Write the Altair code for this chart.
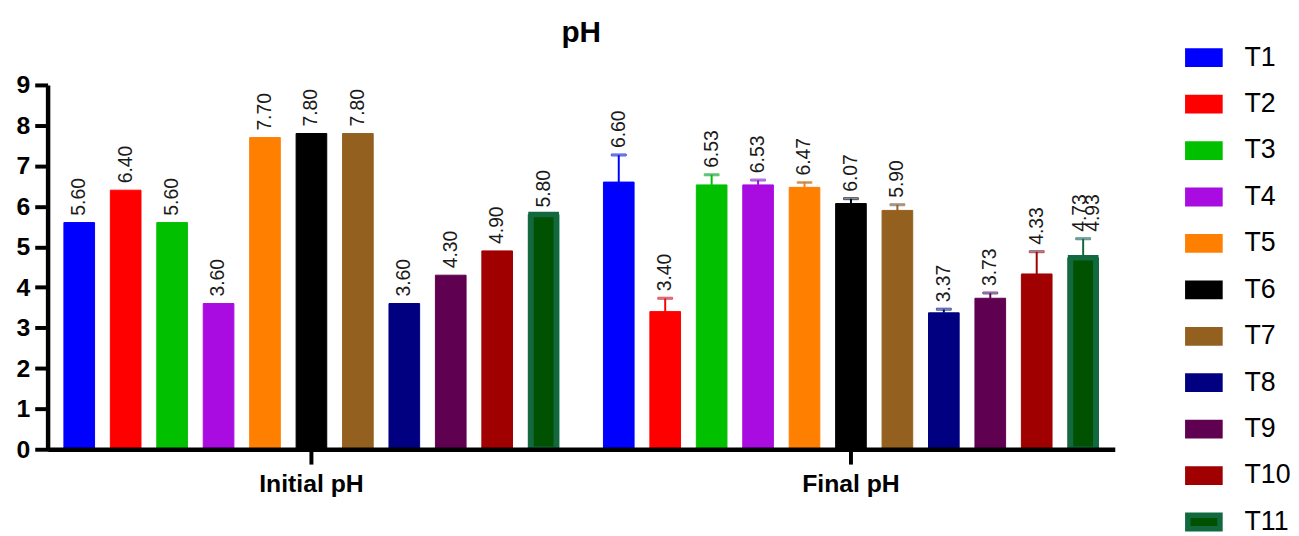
import altair as alt
import pandas as pd

# ---- data ----
treatments = ["T1", "T2", "T3", "T4", "T5", "T6", "T7", "T8", "T9", "T10", "T11"]
stages = ["Initial pH", "Final pH"]
initial_ph = [5.60, 6.40, 5.60, 3.60, 7.70, 7.80, 7.80, 3.60, 4.30, 4.90, 5.80]
final_ph = [6.60, 3.40, 6.53, 6.53, 6.47, 6.07, 5.90, 3.37, 3.73, 4.33, 4.73]
initial_err = [0, 0, 0, 0, 0, 0, 0, 0, 0, 0, 0]
final_err = [0.67, 0.33, 0.25, 0.12, 0.12, 0.12, 0.14, 0.09, 0.13, 0.55, 0.47]
extra_label_text = "4.93"
y_ticks = [0, 1, 2, 3, 4, 5, 6, 7, 8, 9]

fill_colors = ["#0000FF", "#FF0000", "#00C000", "#A80CE0", "#FF8000", "#000000",
               "#936020", "#000080", "#600050", "#A00000", "#005200"]
edge_colors = ["#0000FF", "#FF0000", "#00C000", "#A80CE0", "#FF8000", "#000000",
               "#936020", "#000080", "#600050", "#A00000", "#13693F"]

rows = []
for stage, vals, errs in zip(stages, [initial_ph, final_ph], [initial_err, final_err]):
    for t, v, e in zip(treatments, vals, errs):
        rows.append({"Stage": stage, "Treatment": t, "pH": v, "err": e, "label": f"{v:.2f}"})
df = pd.DataFrame(rows)

FONT = "Liberation Sans"
LEGEND_PATH = "M-1,-0.4154H1V0.4154H-1Z"

x_enc = alt.X(
    "Stage:N", sort=stages, title=None,
    scale=alt.Scale(domain=stages, paddingInner=0.0532, paddingOuter=0.0156),
    axis=alt.Axis(labelAngle=0, labelFont=FONT, labelFontSize=25, labelFontWeight="bold",
                  labelColor="black", labelPadding=8, tickSize=15, tickWidth=4,
                  tickColor="black", domainWidth=4.5, domainColor="black", zindex=1),
)
xoff_enc = alt.XOffset("Treatment:N", sort=treatments,
                       scale=alt.Scale(domain=treatments, paddingInner=0.34, paddingOuter=0.17))
y_scale = alt.Scale(domain=[0, 9], nice=False)
y_axis = alt.Axis(values=y_ticks, grid=False, labelFont=FONT, labelFontSize=25,
                  labelFontWeight="bold", labelColor="black", labelPadding=5,
                  tickSize=13, tickWidth=4, tickColor="black", domainWidth=4.5,
                  domainColor="black", zindex=1, format="d")
fill_enc = alt.Fill("Treatment:N", sort=treatments, title=None,
                    scale=alt.Scale(domain=treatments, range=fill_colors))
stroke_enc = alt.Stroke("Treatment:N", sort=treatments, title=None,
                        scale=alt.Scale(domain=treatments, range=edge_colors))

base = alt.Chart(df)

bars = base.mark_bar().encode(
    x=x_enc, xOffset=xoff_enc,
    y=alt.Y("pH:Q", scale=y_scale, axis=y_axis, title=None),
    fill=fill_enc, stroke=stroke_enc,
)

t11 = base.transform_filter(alt.datum.Treatment == "T11").mark_bar(
    strokeWidth=5.5, width=25.5
).encode(
    x=x_enc, xOffset=xoff_enc,
    y=alt.Y("pH:Q", scale=y_scale),
    fill=fill_enc, stroke=stroke_enc,
)

err_base = base.transform_filter(alt.datum.err > 0).transform_calculate(hi="datum.pH + datum.err")

rules = err_base.mark_rule(strokeWidth=2).encode(
    x=x_enc, xOffset=xoff_enc,
    y=alt.Y("pH:Q", scale=y_scale), y2="hi:Q",
    stroke=stroke_enc,
)
caps = err_base.mark_tick(size=15, thickness=2).encode(
    x=x_enc, xOffset=xoff_enc,
    y=alt.Y("hi:Q", scale=y_scale),
    stroke=stroke_enc,
)

lab_base = base.transform_calculate(hi="datum.pH + datum.err")
is_last = (alt.datum.Stage == "Final pH") & (alt.datum.Treatment == "T11")
text_kw = dict(angle=270, align="left", baseline="middle", dx=7, font=FONT,
               fontSize=19.5, color="#1a1a1a")

labels = lab_base.transform_filter(~is_last).mark_text(**text_kw).encode(
    x=x_enc, xOffset=xoff_enc, y=alt.Y("hi:Q", scale=y_scale), text="label:N"
)
labels_a = lab_base.transform_filter(is_last).mark_text(dy=-3, **text_kw).encode(
    x=x_enc, xOffset=xoff_enc, y=alt.Y("hi:Q", scale=y_scale), text="label:N"
)
labels_b = lab_base.transform_filter(is_last).mark_text(dy=10, **text_kw).encode(
    x=x_enc, xOffset=xoff_enc, y=alt.Y("hi:Q", scale=y_scale), text=alt.value(extra_label_text)
)

chart = alt.layer(bars, t11, rules, caps, labels, labels_a, labels_b).properties(
    width=1078, height=368,
    title=alt.Title("pH", font=FONT, fontSize=30, fontWeight="bold", color="black",
                    anchor="middle", frame="group", offset=-9),
    padding={"left": 8, "top": 7, "right": 0, "bottom": 0},
).configure_view(stroke=None).configure_legend(
    orient="none", legendX=1149, legendY=-46.5, padding=0,
    symbolType=LEGEND_PATH, symbolSize=1056, symbolStrokeWidth=5.5,
    labelFont=FONT, labelFontSize=27, labelColor="black", labelOffset=22,
    rowPadding=9.9, symbolOpacity=1,
)

chart.save("out.html", embed_options={"renderer": "svg", "actions": False})
